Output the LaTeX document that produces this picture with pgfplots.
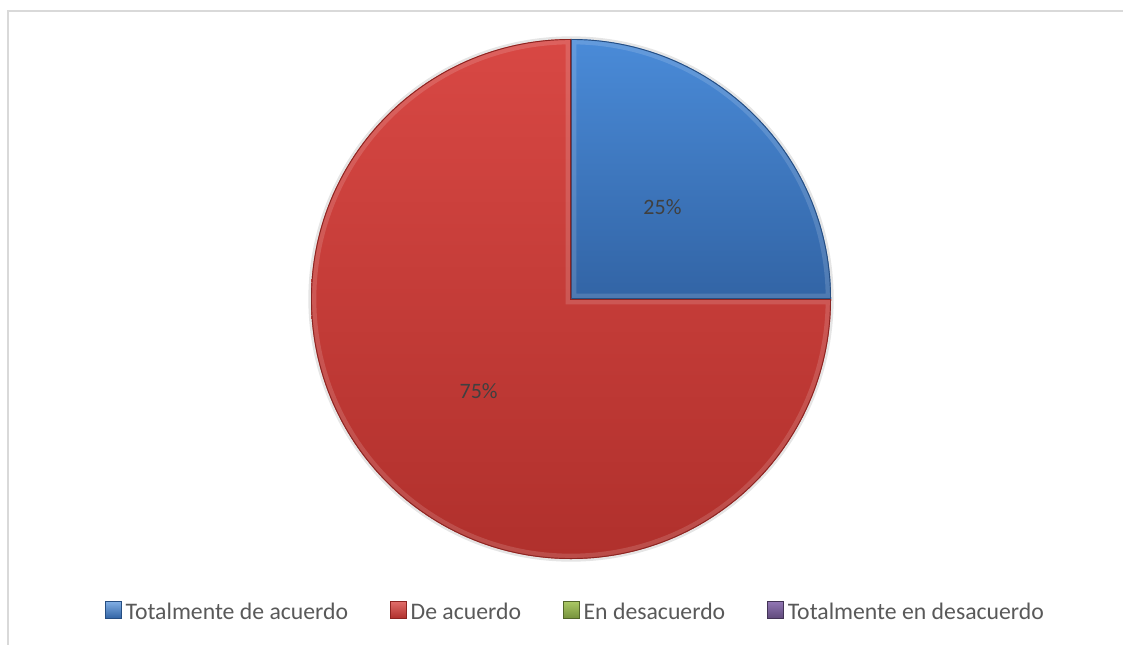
\documentclass[border=0pt]{standalone}
\usepackage{fontspec}
\setmainfont{Carlito}
\usepackage{pgfplots}
\usepackage{pgfplotstable}
\pgfplotsset{compat=1.18}
\definecolor{blueTop}{RGB}{74,139,216}
\definecolor{blueBot}{RGB}{50,100,165}
\definecolor{blueEdge}{RGB}{38,78,130}
\definecolor{redTop}{RGB}{216,72,68}
\definecolor{redBot}{RGB}{176,48,44}
\definecolor{redEdge}{RGB}{140,36,33}
\definecolor{greenTop}{RGB}{170,200,100}
\definecolor{greenBot}{RGB}{118,146,60}
\definecolor{purpleTop}{RGB}{145,118,180}
\definecolor{purpleBot}{RGB}{96,74,123}
\definecolor{lblgray}{RGB}{64,64,64}
\definecolor{leggray}{RGB}{89,89,89}
\definecolor{framegray}{RGB}{217,217,217}

\pgfplotstableread[col sep=comma]{
cat,value
Totalmente de acuerdo,25
De acuerdo,75
En desacuerdo,0
Totalmente en desacuerdo,0
}\piedata

\pgfplotstablegetelem{0}{value}\of\piedata \pgfmathsetmacro{\vA}{\pgfplotsretval}
\pgfplotstablegetelem{1}{value}\of\piedata \pgfmathsetmacro{\vB}{\pgfplotsretval}
\pgfplotstablegetelem{2}{value}\of\piedata \pgfmathsetmacro{\vC}{\pgfplotsretval}
\pgfplotstablegetelem{3}{value}\of\piedata \pgfmathsetmacro{\vD}{\pgfplotsretval}
\pgfmathsetmacro{\total}{\vA+\vB+\vC+\vD}
\pgfmathsetmacro{\fA}{\vA/\total}
\pgfmathsetmacro{\fB}{\vB/\total}
\pgfmathsetmacro{\aS}{90}
\pgfmathsetmacro{\aA}{90-360*\fA}
\pgfmathsetmacro{\aB}{\aA-360*\fB}
\pgfmathsetmacro{\mA}{(\aS+\aA)/2}
\pgfmathsetmacro{\mB}{(\aA+\aB)/2}
\pgfmathtruncatemacro{\pA}{round(100*\fA)}
\pgfmathtruncatemacro{\pB}{round(100*\fB)}

\newcommand{\slicepath}[2]{(axis cs:0,0) -- ++(#1:195pt) arc[start angle=#1, end angle=#2, radius=195pt] -- cycle}

\begin{document}
\begin{tikzpicture}[x=0.75pt,y=0.75pt]
\path[use as bounding box] (0,0) rectangle (1123,644);
\clip (0,0) rectangle (1123,644);
\draw[framegray, line width=1.5pt] (8,-5) -- (8,633) -- (1130,633);
\coordinate (C) at (571,345);
\begin{axis}[
  at={(C)}, anchor=center,
  width=390pt, height=390pt, scale only axis,
  xmin=-1, xmax=1, ymin=-1, ymax=1,
  hide axis, clip=false,
  legend columns=4,
  legend style={at={(0.508,-0.102)}, anchor=center, draw=none, fill=none,
    font=\fontsize{17.8}{21}\selectfont, text=leggray,
    /tikz/every odd column/.append style={column sep=2pt},
    /tikz/every even column/.append style={column sep=30.5pt},
    nodes={inner sep=1pt}},
]
% soft shadow
\fill[black, opacity=0.10] (axis cs:0,0) circle[radius=197pt];
% slice A
\begin{scope}
  \clip \slicepath{\aS}{\aA};
  \shade[top color=blueTop, bottom color=blueBot] \slicepath{\aS}{\aA};
  \draw[white, opacity=0.14, line width=8pt] \slicepath{\aS}{\aA};
  \draw[blueEdge, line width=1.4pt] \slicepath{\aS}{\aA};
\end{scope}
% slice B
\begin{scope}
  \clip \slicepath{\aA}{\aB};
  \shade[top color=redTop, bottom color=redBot] \slicepath{\aA}{\aB};
  \draw[white, opacity=0.14, line width=8pt] \slicepath{\aA}{\aB};
  \draw[redEdge, line width=1.4pt] \slicepath{\aA}{\aB};
\end{scope}
\node[text=lblgray, font=\fontsize{16.5}{20}\selectfont] at ([shift={(\mA:97pt)}]axis cs:0,0) {\pA\%};
\node[text=lblgray, font=\fontsize{16.5}{20}\selectfont] at ([shift={(\mB:98pt)}]axis cs:0,0) {\pB\%};

\addlegendimage{legend image code/.code={\shade[top color=blueTop!70, bottom color=blueBot, draw=blueEdge, line width=0.4pt] (0pt,-4.5pt) rectangle (12pt,8pt);}}
\addlegendentry{Totalmente de acuerdo}
\addlegendimage{legend image code/.code={\shade[top color=redTop!80, bottom color=redBot, draw=redEdge, line width=0.4pt] (0pt,-4.5pt) rectangle (12pt,8pt);}}
\addlegendentry{De acuerdo}
\addlegendimage{legend image code/.code={\shade[top color=greenTop, bottom color=greenBot, draw=greenBot!70!black, line width=0.4pt] (0pt,-4.5pt) rectangle (12pt,8pt);}}
\addlegendentry{En desacuerdo}
\addlegendimage{legend image code/.code={\shade[top color=purpleTop, bottom color=purpleBot, draw=purpleBot!70!black, line width=0.4pt] (0pt,-4.5pt) rectangle (12pt,8pt);}}
\addlegendentry{Totalmente en desacuerdo}
\end{axis}
\end{tikzpicture}
\end{document}
